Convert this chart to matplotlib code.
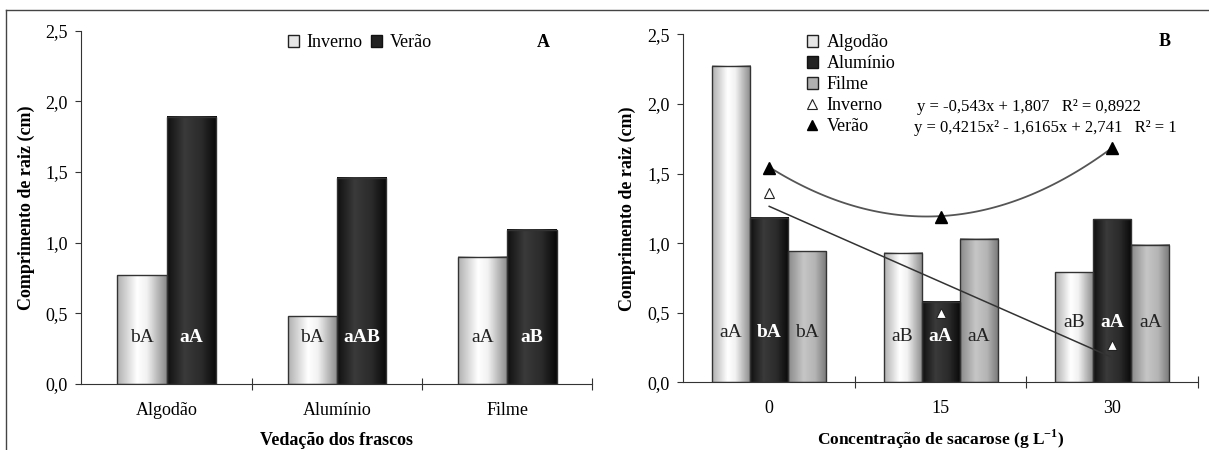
import numpy as np
import matplotlib
matplotlib.use('Agg')
import matplotlib.pyplot as plt
from matplotlib.colors import LinearSegmentedColormap
from matplotlib.patches import Patch
from matplotlib.lines import Line2D

plt.rcParams['font.family'] = ['Liberation Serif', 'DejaVu Serif']
plt.rcParams['mathtext.fontset'] = 'custom'
plt.rcParams['mathtext.rm'] = 'Liberation Serif'
plt.rcParams['mathtext.bf'] = 'Liberation Serif:bold'

# ── dados painel A ──
vedacao = ['Algodão', 'Alumínio', 'Filme']
inverno_A = [0.77, 0.48, 0.90]
verao_A = [1.89, 1.46, 1.09]
letras_inv_A = ['bA', 'bA', 'aA']
letras_ver_A = ['aA', 'aAB', 'aB']

# ── dados painel B ──
sacarose = ['0', '15', '30']
algodao_B = [2.27, 0.93, 0.79]
aluminio_B = [1.18, 0.58, 1.17]
filme_B = [0.94, 1.03, 0.99]
letras_alg_B = ['aA', 'aB', 'aB']
letras_alu_B = ['bA', 'aA', 'aA']
letras_fil_B = ['bA', 'aA', 'aA']
letras_y_B = [0.36, 0.33, 0.43]
inverno_pts = [1.36, 0.50, 0.27]
verao_pts = [1.54, 1.19, 1.68]
coef_inv = [-0.543, 1.807]
coef_ver = [0.4215, -1.6165, 2.741]

cm_claro = LinearSegmentedColormap.from_list('claro', [(0, '#b0b0b0'), (0.4, '#ffffff'), (0.6, '#f2f2f2'), (1, '#8a8a8a')])
cm_escuro = LinearSegmentedColormap.from_list('escuro', [(0, '#101010'), (0.35, '#3a3a3a'), (0.7, '#2a2a2a'), (1, '#080808')])
cm_cinza = LinearSegmentedColormap.from_list('cinza', [(0, '#8a8a8a'), (0.4, '#c6c6c6'), (0.7, '#b4b4b4'), (1, '#787878')])


def barras(ax, x, vals, w, cmap):
    bars = ax.bar(x, vals, w, facecolor='none', edgecolor='#333333', linewidth=1, zorder=3)
    grad = np.linspace(0, 1, 64).reshape(1, -1)
    for b in bars:
        x0, bw, h = b.get_x(), b.get_width(), b.get_height()
        ax.imshow(grad, cmap=cmap, extent=[x0, x0 + bw, 0, h], aspect='auto', zorder=2,
                  interpolation='bilinear')
    return bars


def estilo(ax, cats):
    ax.set_xlim(-0.5, 2.5)
    ax.set_ylim(0, 2.5)
    ax.spines['top'].set_visible(False)
    ax.spines['right'].set_visible(False)
    for s in ['left', 'bottom']:
        ax.spines[s].set_color('#333333')
    ax.set_yticks(np.arange(0, 2.51, 0.5))
    ax.set_yticklabels([f'{v:.1f}'.replace('.', ',') for v in np.arange(0, 2.51, 0.5)], fontsize=13)
    ax.tick_params(axis='y', direction='out', length=4, pad=6, color='#333333')
    ax.set_xticks([0.5, 1.5, 2.5])
    ax.set_xticklabels([])
    ax.tick_params(axis='x', which='major', direction='inout', length=9, color='#333333')
    ax.set_xticks([0, 1, 2], minor=True)
    ax.set_xticklabels(cats, minor=True, fontsize=13)
    ax.tick_params(axis='x', which='minor', length=0, pad=13)


fig = plt.figure(figsize=(12.09, 4.5), dpi=100)

# ── (A) ──
axA = fig.add_axes([0.0674, 0.1467, 0.4226, 0.7851])
xA = np.arange(3)
wA = 0.29
barras(axA, xA - wA / 2, inverno_A, wA, cm_claro)
barras(axA, xA + wA / 2, verao_A, wA, cm_escuro)
estilo(axA, vedacao)
for i in range(3):
    axA.text(xA[i] - wA / 2, 0.33, letras_inv_A[i], ha='center', va='center', fontsize=14, color='#222222', zorder=4)
    axA.text(xA[i] + wA / 2, 0.33, letras_ver_A[i], ha='center', va='center', fontsize=14, color='white',
             fontweight='bold', zorder=4)
axA.set_ylabel('Comprimento de raiz (cm)', fontsize=13, fontweight='bold', va='center')
axA.yaxis.set_label_coords(-0.107, 0.5)
axA.set_xlabel('Vedação dos frascos', fontsize=13, fontweight='bold', va='center')
axA.xaxis.set_label_coords(0.5, -0.16)
hA = [Patch(facecolor='#e6e6e6', edgecolor='#222222', label='Inverno'),
      Patch(facecolor='#222222', edgecolor='#111111', label='Verão')]
axA.legend(handles=hA, loc='upper left', bbox_to_anchor=(0.405, 0.99), ncol=2, frameon=False,
           fontsize=13, handlelength=0.6, handleheight=0.6, handletextpad=0.4, columnspacing=0.5,
           borderpad=0, borderaxespad=0)
axA.text(0.903, 0.966, 'A', transform=axA.transAxes, ha='center', va='center', fontsize=13, fontweight='bold')

# ── (B) ──
axB = fig.add_axes([0.5653, 0.1504, 0.4256, 0.7734])
xB = np.arange(3)
wB = 0.222
barras(axB, xB - wB, algodao_B, wB, cm_claro)
barras(axB, xB, aluminio_B, wB, cm_escuro)
barras(axB, xB + wB, filme_B, wB, cm_cinza)
estilo(axB, sacarose)
for i in range(3):
    axB.text(xB[i] - wB, letras_y_B[i], letras_alg_B[i], ha='center', va='center', fontsize=14, color='#222222', zorder=4)
    axB.text(xB[i], letras_y_B[i], letras_alu_B[i], ha='center', va='center', fontsize=14, color='white',
             fontweight='bold', zorder=4)
    axB.text(xB[i] + wB, letras_y_B[i], letras_fil_B[i], ha='center', va='center', fontsize=14, color='#222222', zorder=4)

# linhas de tendência (x da equação = 1, 2, 3)
xx = np.linspace(1, 3, 100)
axB.plot(xx - 1, np.polyval(coef_inv, xx), color='#333333', linewidth=1.1, zorder=5)
axB.plot(xx - 1, np.polyval(coef_ver, xx), color='#555555', linewidth=1.3, zorder=5)
axB.plot(xB, inverno_pts, linestyle='none', marker='^', markersize=7, markerfacecolor='white',
         markeredgecolor='#222222', markeredgewidth=0.8, zorder=6)
axB.plot(xB, verao_pts, linestyle='none', marker='^', markersize=8, color='black', zorder=6)

axB.set_ylabel('Comprimento de raiz (cm)', fontsize=13, fontweight='bold', va='center')
axB.yaxis.set_label_coords(-0.11, 0.5)
axB.set_xlabel(r'Concentração de sacarose (g L$^{\mathbf{-1}}$)', fontsize=12.5, fontweight='bold', va='center')
axB.xaxis.set_label_coords(0.5, -0.163)
hB = [Patch(facecolor='#e6e6e6', edgecolor='#222222', label='Algodão'),
      Patch(facecolor='#222222', edgecolor='#111111', label='Alumínio'),
      Patch(facecolor='#b0b0b0', edgecolor='#222222', label='Filme'),
      Line2D([], [], linestyle='none', marker='^', markersize=7, markerfacecolor='white',
             markeredgecolor='#222222', markeredgewidth=0.8, label='Inverno'),
      Line2D([], [], linestyle='none', marker='^', markersize=7, color='black', label='Verão')]
axB.legend(handles=hB, loc='upper left', bbox_to_anchor=(0.24, 1.0), frameon=False, fontsize=13,
           handlelength=0.6, handleheight=0.6, handletextpad=0.5, labelspacing=0.22,
           borderpad=0, borderaxespad=0)
axB.text(0.453, 0.792, 'y = -0,543x + 1,807   R² = 0,8922', transform=axB.transAxes,
         ha='left', va='center', fontsize=12)
axB.text(0.449, 0.7316, 'y = 0,4215x² - 1,6165x + 2,741   R² = 1', transform=axB.transAxes,
         ha='left', va='center', fontsize=12)
axB.text(0.936, 0.979, 'B', transform=axB.transAxes, ha='center', va='center', fontsize=13, fontweight='bold')

# moldura
fig.add_artist(Line2D([6 / 1209, 1], [1 - 10 / 450, 1 - 10 / 450], transform=fig.transFigure, color='#444444', linewidth=1))
fig.add_artist(Line2D([6 / 1209, 6 / 1209], [0, 1 - 10 / 450], transform=fig.transFigure, color='#444444', linewidth=1))

fig.savefig('out.png', dpi=100, facecolor='white')
